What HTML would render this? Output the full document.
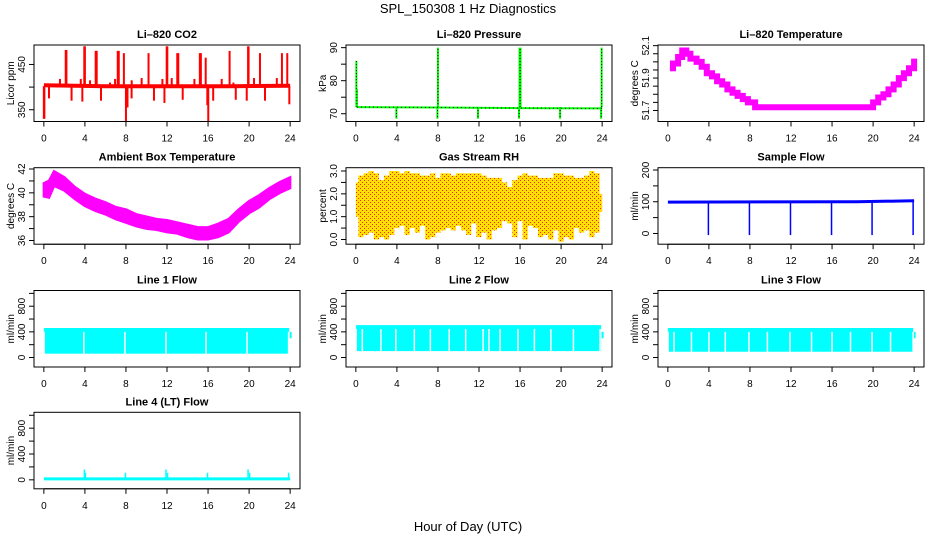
<!DOCTYPE html>
<html><head><meta charset="utf-8"><style>
html,body{margin:0;padding:0;background:#fff;}
svg{display:block;font-family:"Liberation Sans",Arial,sans-serif;}
</style></head><body>
<svg id="chart" width="936" height="540" viewBox="0 0 936 540" xmlns="http://www.w3.org/2000/svg">
<defs>
<pattern id="rhpat" width="4" height="4" patternUnits="userSpaceOnUse">
<rect width="4" height="4" fill="#ffe000"/>
<rect x="0" y="0" width="1" height="1" fill="#ff2000"/>
<rect x="2" y="2" width="1" height="1" fill="#ff2000"/>
</pattern>
</defs>
<text x="468" y="13" font-size="13" text-anchor="middle">SPL_150308  1 Hz Diagnostics</text>
<text x="468" y="531" font-size="13" text-anchor="middle">Hour of Day (UTC)</text>
</svg>
<script>
// ---- data ----
const xTicks = [0,4,8,12,16,20,24];
const co2BaseHours = [0,6,12,18,24];
const co2BaseVals = [404,402,402,402,403];
const co2SpikeHours = [2.13,2.2,3.94,4.0,5.05,5.15,7.2,7.3,7.8,10.2,11.97,12.03,13.0,13.1,15.2,15.3,15.77,18.1,19.9,19.95,21.06,23.2,23.72,
 1.57,3.6,4.5,6.45,6.94,8.56,9.53,11.55,12.46,14.67,17.33,18.47,20.48,22.7,
 0.0,0.05,0.5,2.7,3.75,5.57,8.0,8.15,8.55,10.73,11.75,13.53,15.93,16.02,16.5,18.7,19.77,21.55,23.92];
const co2SpikeVals = [482,482,490,490,480,480,480,480,475,475,490,490,475,475,475,475,465,480,490,490,475,475,475,
 418,418,415,410,418,415,420,418,420,418,418,410,420,420,
 330,330,375,370,368,370,325,355,375,370,365,372,360,325,370,372,370,370,362];

const presBaseHours = [0.1,8,16,24];
const presBaseVals = [72.0,71.9,71.7,71.6];
const presSpikeHours = [0.05,0.1,3.95,7.95,8.0,11.9,15.9,16.0,19.9,23.9,23.95];
const presSpikeVals = [86,77.5,68.5,68.5,90,68.5,68.5,90,68.5,68.5,90];

const tempHours = [0.2,0.5,1.0,1.4,1.8,2.2,2.8,3.3,3.8,4.3,4.8,5.3,5.8,6.3,6.8,7.3,7.8,8.5,12,16,19.6,20.0,20.5,21.0,21.5,22.0,22.5,23.0,23.5,24.0];
const tempVals = [51.96,51.99,52.03,52.07,52.05,52.02,52.0,51.97,51.93,51.91,51.88,51.86,51.83,51.81,51.79,51.77,51.75,51.72,51.72,51.72,51.72,51.75,51.78,51.8,51.83,51.86,51.9,51.93,51.96,52.02];

const ambHours = [0,0.5,1,2,3,4,5,6,7,8,9,10,11,12,13,14,15,16,17,18,19,20,21,22,23,24];
const ambLow = [39.7,39.6,40.6,40.2,39.5,38.9,38.5,38.2,37.8,37.5,37.2,37.0,36.9,36.7,36.6,36.3,36.1,36.1,36.3,36.7,37.6,38.3,38.8,39.5,40.0,40.4];
const ambHigh = [40.8,41.0,41.8,41.3,40.5,39.9,39.5,39.2,38.8,38.6,38.2,38.0,37.8,37.7,37.5,37.3,37.1,37.1,37.4,37.8,38.6,39.3,39.8,40.4,40.9,41.3];

const rhHigh = [2.5,2.8,2.9,3.0,2.9,2.6,2.8,3.0,3.0,2.9,3.0,2.9,2.9,2.8,2.8,2.9,2.7,2.9,2.9,2.8,2.9,2.9,2.9,2.9,2.9,2.8,2.7,2.7,2.7,2.5,2.3,2.6,2.8,2.9,2.8,2.8,2.7,2.7,2.7,2.9,2.9,2.8,2.8,2.7,2.7,2.8,3.0,2.9,2.0];
const rhLow = [1.0,0.1,0.2,0.3,0.0,0.1,0.0,0.2,0.5,0.6,0.2,0.5,0.3,0.6,0.0,0.1,0.3,0.4,0.5,0.4,0.6,0.4,0.2,0.7,0.1,0.3,0.0,0.4,0.5,0.8,0.7,0.1,0.8,0.0,0.6,0.5,0.1,0.2,0.0,0.4,-0.1,0.1,0.0,0.5,0.3,0.4,0.1,0.3,1.2];

const sfBaseHours = [0,18.4,24];
const sfBaseVals = [99,100,103];
const sfDipHours = [3.95,7.95,11.95,15.95,19.9,23.9];
const sfDipVals = [-5,-5,-5,-5,-5,-5];

const l1Low = 60, l1High = 460;
const l1Gaps = [3.9,7.9,11.9,15.8,19.8,23.85];
const l2Low = 100, l2High = 505;
const l2Gaps = [0.63,2.44,3.9,5.7,7.26,9.1,10.7,12.4,12.97,14.05,15.8,17.4,19.0,21.2,23.8];
const l3Low = 90, l3High = 460;
const l3Gaps = [0.6,2.3,4.0,5.6,7.9,9.7,11.9,14.0,16.0,17.8,19.9,21.7,23.9];
const l4Base = 15;
const l4SpikeHours = [3.95,4.05,7.95,11.9,12.05,15.95,19.9,20.05,23.85];
const l4SpikeVals = [160,110,110,160,110,110,160,110,110];

// ---- layout ----
const NS = "http://www.w3.org/2000/svg";
const svg = document.getElementById('chart');
const colX = [34,346,658], W = 266;
const rowY = [45,167.7,290.5,412.3], H = 76.5;

function el(tag, attrs, parent){
  const e = document.createElementNS(NS, tag);
  for (const k in attrs) e.setAttribute(k, attrs[k]);
  (parent||svg).appendChild(e);
  return e;
}

function makePanel(c, r, name, title, ylab, ymin, ymax, yticks, ylabels){
  const g = el('g', {});
  
  
  const x0 = colX[c], y0 = rowY[r];
  const xs = h => x0 + (h + 0.96) / 25.92 * W;
  const ys = v => y0 + (ymax - v) / (ymax - ymin) * H;
  const plot = el('g', {}, g);
  
  
  const box = el('rect', {x:x0, y:y0, width:W, height:H, fill:'none', stroke:'#000', 'stroke-width':1}, g);
  
  
  const t = el('text', {x:x0 + W/2, y:y0 - 7, 'font-size':11, 'font-weight':'bold', 'text-anchor':'middle'}, g);
  t.textContent = title;
  
  
  const xa = el('g', {}, g);
  
  
  el('line', {x1:xs(0), x2:xs(24), y1:y0+H, y2:y0+H, stroke:'#000'}, xa);
  xTicks.forEach(v => {
    el('line', {x1:xs(v), x2:xs(v), y1:y0+H, y2:y0+H+5, stroke:'#000'}, xa);
    const tl = el('text', {x:xs(v), y:y0+H+20, 'font-size':10, 'text-anchor':'middle'}, xa);
    tl.textContent = v;
    
    
  });
  const ya = el('g', {}, g);
  
  
  el('line', {x1:x0, x2:x0, y1:ys(yticks[0]), y2:ys(yticks[yticks.length-1]), stroke:'#000'}, ya);
  yticks.forEach(v => {
    el('line', {x1:x0-5, x2:x0, y1:ys(v), y2:ys(v), stroke:'#000'}, ya);
  });
  ylabels.forEach(v => {
    const yy = ys(parseFloat(v));
    const tl = el('text', {x:0, y:0, 'font-size':10, 'text-anchor':'middle', transform:`translate(${x0-9},${yy}) rotate(-90)`}, ya);
    tl.textContent = v;
    
    
  });
  const yt = el('text', {x:0, y:0, 'font-size':10, 'text-anchor':'middle', transform:`translate(${x0-20},${y0+H/2}) rotate(-90)`}, g);
  yt.textContent = ylab;
  
  
  return {plot, xs, ys, x0, y0};
}

function polyline(p, hours, vals, xs, ys, attrs){
  const pts = hours.map((h,i) => xs(h).toFixed(1) + ',' + ys(vals[i]).toFixed(1)).join(' ');
  return el('polyline', Object.assign({points:pts, fill:'none'}, attrs), p);
}
function vline(p, x, ya, yb, color, w){
  return el('line', {x1:x, x2:x, y1:ya, y2:yb, stroke:color, 'stroke-width':w}, p);
}

// CO2
(function(){
  const P = makePanel(0,0,'co2','Li\u2013820 CO2','Licor ppm',324,493,[350,400,450],['350','450']);
  const base = polyline(P.plot, co2BaseHours, co2BaseVals, P.xs, P.ys, {stroke:'#ff0000','stroke-width':4});
  
  co2SpikeHours.forEach((h,i) => {
    const s = vline(P.plot, P.xs(h), P.ys(402), P.ys(co2SpikeVals[i]), '#ff0000', 2);
    
  });
})();

// Pressure
(function(){
  const P = makePanel(1,0,'pressure','Li\u2013820 Pressure','kPa',67.65,90.8,[70,75,80,85,90],['70','80','90']);
  presSpikeHours.forEach((h,i) => {
    const s = vline(P.plot, P.xs(h), P.ys(72), P.ys(presSpikeVals[i]), '#00ff00', i===7?3:2);
    
    vline(P.plot, P.xs(h), P.ys(72), P.ys(presSpikeVals[i]), '#000', 1).setAttribute('stroke-dasharray','1 2');
  });
  const b = polyline(P.plot, presBaseHours, presBaseVals, P.xs, P.ys, {stroke:'#00ff00','stroke-width':2});
  
  polyline(P.plot, presBaseHours, presBaseVals, P.xs, P.ys, {stroke:'#000','stroke-width':1,'stroke-dasharray':'1 3'});
})();

// Li temperature
(function(){
  const P = makePanel(2,0,'li-temperature','Li\u2013820 Temperature','degrees C',51.632,52.104,[51.7,51.75,51.8,51.85,51.9,51.95,52.0,52.05,52.1],['51.7','51.9','52.1']);
  let pts = [];
  tempHours.forEach((h,i) => {
    if (i>0) pts.push(P.xs(h).toFixed(1)+','+P.ys(tempVals[i-1]).toFixed(1));
    pts.push(P.xs(h).toFixed(1)+','+P.ys(tempVals[i]).toFixed(1));
  });
  const l = el('polyline', {points:pts.join(' '), fill:'none', stroke:'#ff00ff','stroke-width':6}, P.plot);
  
})();

// Ambient
(function(){
  const P = makePanel(0,1,'ambient-temperature','Ambient Box Temperature','degrees C',35.69,42.11,[36,37,38,39,40,41,42],['36','38','40','42']);
  const up = ambHours.map((h,i) => P.xs(h).toFixed(1)+','+P.ys(ambHigh[i]).toFixed(1));
  const dn = ambHours.map((h,i) => P.xs(h).toFixed(1)+','+P.ys(ambLow[i]).toFixed(1)).reverse();
  const p = el('polygon', {points:up.concat(dn).join(' '), fill:'#ff00ff', stroke:'#ff00ff','stroke-width':2.5}, P.plot);
  
})();

// RH
(function(){
  const P = makePanel(1,1,'gas-stream-rh','Gas Stream RH','percent',-0.206,3.145,[0,0.5,1,1.5,2,2.5,3],['0.0','1.0','2.0','3.0']);
  rhHigh.forEach((v,i) => {
    const h = i*0.5;
    const xa = P.xs(Math.max(0,h-0.25)), xb = P.xs(Math.min(24,h+0.25));
    const r = el('rect', {x:xa, y:P.ys(v), width:xb-xa, height:P.ys(rhLow[i])-P.ys(v), fill:'url(#rhpat)'}, P.plot);
    
  });
})();

// Sample flow
(function(){
  const P = makePanel(2,1,'sample-flow','Sample Flow','ml/min',-33.8,207.3,[0,50,100,150,200],['0','100','200']);
  const b = polyline(P.plot, sfBaseHours, sfBaseVals, P.xs, P.ys, {stroke:'#0000ff','stroke-width':3});
  
  sfDipHours.forEach((h,i) => {
    const s = vline(P.plot, P.xs(h), P.ys(100), P.ys(sfDipVals[i]), '#0000ff', 1.5);
    
  });
})();

// Line flows
function flowPanel(c,r,name,title,lo,hi,gaps){
  const P = makePanel(c,r,name,title,'ml/min',-148,1045,[0,200,400,600,800,1000],['0','400','800']);
  const band = el('rect', {x:P.xs(0.1), y:P.ys(hi), width:P.xs(23.9)-P.xs(0.1), height:P.ys(lo)-P.ys(hi), fill:'#00ffff'}, P.plot);
  
  el('rect', {x:P.xs(0), y:P.ys(hi), width:P.xs(0.1)-P.xs(0), height:P.ys(hi-60)-P.ys(hi), fill:'#00ffff'}, P.plot);
  el('rect', {x:P.xs(23.95), y:P.ys(400), width:2, height:P.ys(300)-P.ys(400), fill:'#00ffff'}, P.plot);
  gaps.forEach(h => {
    const g = vline(P.plot, P.xs(h), P.ys(hi-60), P.ys(lo), '#fff', 1.5);
    
  });
}
flowPanel(0,2,'line-1-flow','Line 1 Flow',l1Low,l1High,l1Gaps);
flowPanel(1,2,'line-2-flow','Line 2 Flow',l2Low,l2High,l2Gaps);
flowPanel(2,2,'line-3-flow','Line 3 Flow',l3Low,l3High,l3Gaps);

// Line 4
(function(){
  const P = makePanel(0,3,'line-4-flow','Line 4 (LT) Flow','ml/min',-139,1046,[0,200,400,600,800,1000],['0','400','800']);
  const b = el('line', {x1:P.xs(0), x2:P.xs(24), y1:P.ys(l4Base), y2:P.ys(l4Base), stroke:'#00ffff','stroke-width':3}, P.plot);
  
  l4SpikeHours.forEach((h,i) => {
    const s = vline(P.plot, P.xs(h), P.ys(l4Base), P.ys(l4SpikeVals[i]), '#00ffff', 1.5);
    
  });
})();
</script>
</body></html>
